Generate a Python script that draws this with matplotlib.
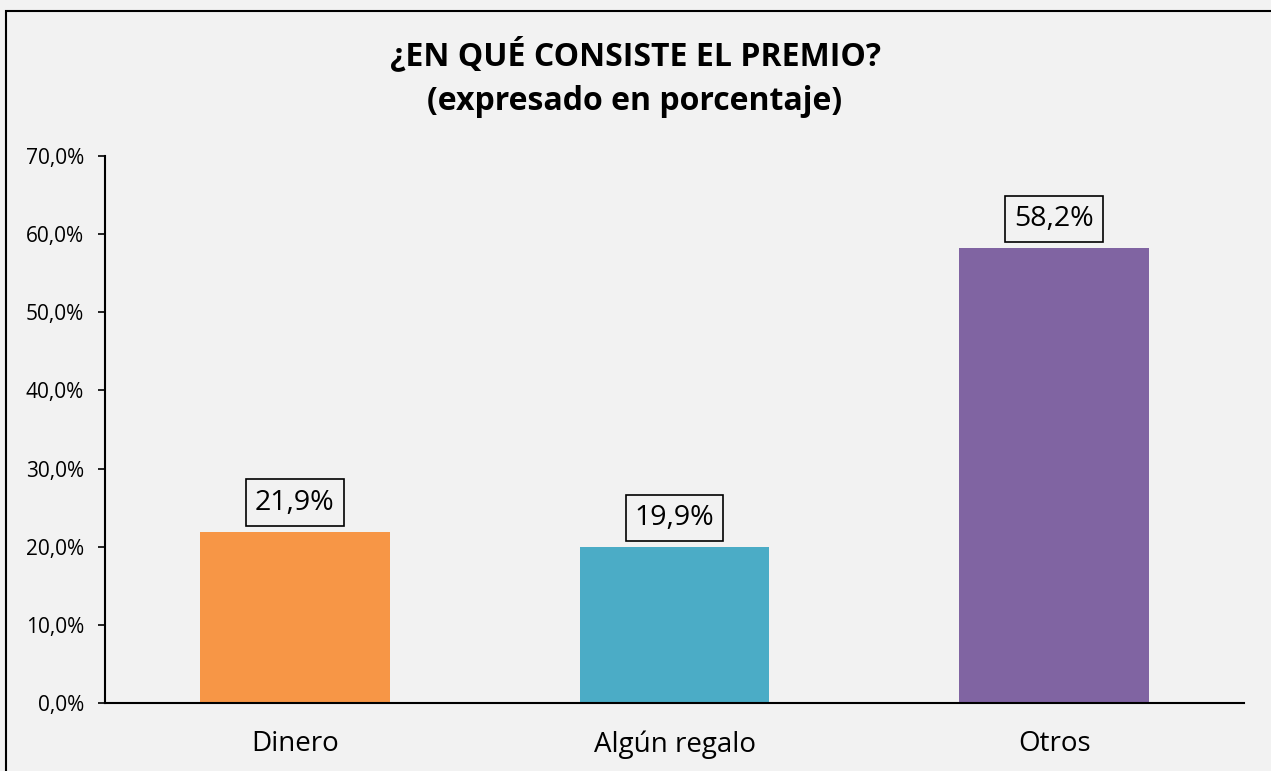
import matplotlib
matplotlib.use("Agg")
import matplotlib.pyplot as plt
from matplotlib.patches import Rectangle
from matplotlib.ticker import FuncFormatter

categories = ["Dinero", "Algún regalo", "Otros"]
values = [21.9, 19.9, 58.2]
colors = ["#F79646", "#4BACC6", "#8064A2"]
title_line1 = "¿EN QUÉ CONSISTE EL PREMIO?"
title_line2 = "(expresado en porcentaje)"

W, H = 1271, 771
fig = plt.figure(figsize=(W / 100, H / 100), dpi=100)
fig.patch.set_facecolor("#F2F2F2")
plt.rcParams["font.family"] = ["Open Sans", "DejaVu Sans"]

# figure border (right/bottom edges cropped in reference)
fig.patches.append(Rectangle((6 / W, -0.05), 1.1, (H - 11) / H + 0.05,
                             transform=fig.transFigure, fill=False,
                             edgecolor="black", linewidth=1.5))

ax = fig.add_axes([105 / W, 1 - 703 / H, (1244 - 105) / W, (703 - 156) / H])
ax.set_facecolor("#F2F2F2")
x = range(len(categories))
bars = ax.bar(x, values, width=0.5, color=colors)
ax.set_xlim(-0.5, 2.5)
ax.set_ylim(0, 70)
ax.set_yticks(range(0, 71, 10))
ax.yaxis.set_major_formatter(FuncFormatter(lambda v, p: f"{v:.1f}%".replace(".", ",")))
ax.set_xticks(list(x))
ax.set_xticklabels(categories, fontsize=20)
ax.tick_params(axis="x", length=0, pad=19.5)
ax.tick_params(axis="y", length=5, width=1.2, labelsize=15, pad=10)
for s in ["top", "right"]:
    ax.spines[s].set_visible(False)
for s in ["left", "bottom"]:
    ax.spines[s].set_linewidth(1.5)

for b, v in zip(bars, values):
    ax.annotate(f"{v:.1f}%".replace(".", ","), (b.get_x() + b.get_width() / 2, v),
                xytext=(0, 11), textcoords="offset points", ha="center", va="bottom",
                fontsize=20.5,
                bbox=dict(boxstyle="square,pad=0.32", fc="none", ec="black", lw=1.2))

fig.text(635 / W, 1 - 65 / H, title_line1, ha="center", va="baseline", fontsize=23,
         fontweight="bold")
fig.text(635 / W, 1 - 110 / H, title_line2, ha="center", va="baseline", fontsize=23,
         fontweight="bold")

fig.savefig("out.png", dpi=100, facecolor=fig.get_facecolor())
